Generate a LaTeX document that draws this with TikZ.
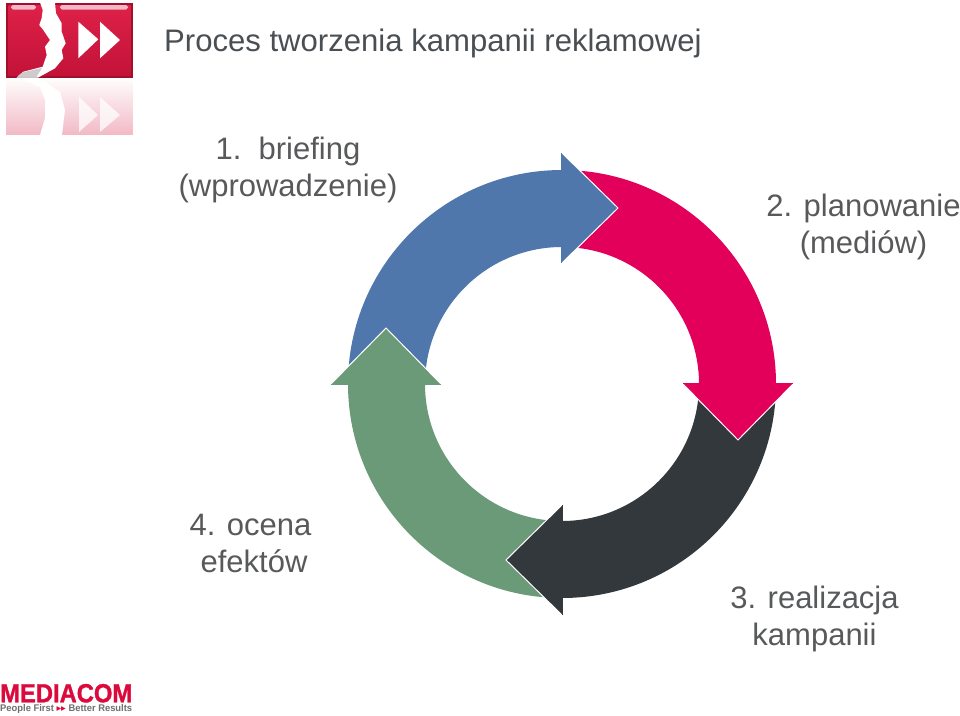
\documentclass[tikz,border=0pt]{standalone}
\usepackage{fontspec}
\setmainfont{Liberation Sans}
\newfontfamily\logofont[FakeBold=1.2]{Liberation Sans}
\newfontfamily\arrowfont{DejaVu Sans}
\definecolor{txtgray}{HTML}{58595B}
\definecolor{titlegray}{HTML}{4A4F54}
\definecolor{cblue}{HTML}{4F77AB}
\definecolor{cpink}{HTML}{E2005A}
\definecolor{cdark}{HTML}{33383C}
\definecolor{cgreen}{HTML}{6B9A78}
\definecolor{logored}{HTML}{D4143E}
\definecolor{logolight}{HTML}{DE2148}
\definecolor{logodark}{HTML}{A30E2A}
\definecolor{mcred}{HTML}{DC0A3C}
\definecolor{mcgray}{HTML}{6D6E70}
\usetikzlibrary{fadings}
\tikzset{
  lab/.style={font=\fontsize{31}{37}\selectfont,text=txtgray,align=center,inner sep=0pt},
  titletext/.style={font=\fontsize{31.1}{36}\selectfont,text=titlegray,anchor=west,inner sep=0pt},
  tipedge/.style={draw=white,line width=1pt,line join=miter},
  glowbar/.style={fill=white!70!logored,rounded corners=1.8pt},
}
\newcommand{\ringbody}[2]{%
  \begin{scope}[shift={(562,-384)},rotate=#1]
    \fill[#2] (180:214) arc[start angle=180,end angle=90,radius=214] -- (90:137) arc[start angle=90,end angle=180,radius=137] -- cycle;
  \end{scope}}
\newcommand{\ringhead}[2]{%
  \begin{scope}[shift={(562,-384)},rotate=#1]
    \fill[#2] (0,231) -- (56,176) -- (0,121) -- cycle;
    \draw[tipedge] (0,231) -- (56,176) -- (0,121);
    \fill[#2] (-1,231) -- (-0.2,231) -- (-0.2,121) -- (-1,121) -- cycle;
  \end{scope}}
\begin{document}
\begin{tikzpicture}[x=1pt,y=1pt]
\useasboundingbox (0,0) rectangle (960,-715);
\fill[white] (0,0) rectangle (960,-715);
% logo reflection
\fill[logored!30,path fading=north] (6,-77) rectangle (133,-135);
\begin{scope}
  \clip (6,-77) rectangle (133,-135);
  \fill[white] (17,-77) -- (40,-87) -- (45,-100) -- (45,-118) -- (40,-135) -- (62,-135) -- (65,-110) -- (60,-92) -- (38,-77) -- cycle;
  \fill[white,opacity=.75] (79,-97) -- (98,-115) -- (79,-132) -- cycle;
  \fill[white,opacity=.75] (100,-97) -- (120,-115) -- (100,-132) -- cycle;
\end{scope}
% logo
\fill[logodark] (6,-3) rectangle (133,-77.5);
\shade[top color=logolight,bottom color=logored!92!black] (8.5,-5) rectangle (130.5,-75);
\fill[glowbar] (11,-5) rectangle (36,-9.5);
\fill[glowbar] (60,-5) rectangle (128,-9.5);
\fill[white] (40,-2.5) -- (42.7,-10) -- (41.7,-18) -- (39.3,-25) -- (43.3,-30) -- (50,-40) -- (45,-46.7) -- (46.7,-55) -- (42.7,-66.7) -- (23.3,-71.7) -- (16.7,-77.5) -- (38.3,-77.5) -- (55,-68.3) -- (63.3,-58.3) -- (61.7,-50) -- (65.7,-43.3) -- (61.7,-31.7) -- (61.7,-23.3) -- (56,-13.3) -- (55,-2.5) -- cycle;
\fill[white!80!black] (20,-74) -- (24,-72) -- (42,-68) -- (36,-77.5) -- (17,-77.5) -- cycle;
\fill[white] (78.3,-21.7) -- (98.3,-39.3) -- (78.3,-58.3) -- cycle;
\fill[white] (100,-21.7) -- (120,-40) -- (100,-58.3) -- cycle;
% title
\node[titletext] (title) at (164,-43) {Proces tworzenia kampanii reklamowej};
% ring
\ringbody{0}{cblue}
\ringbody{-90}{cpink}
\ringbody{-180}{cdark}
\ringbody{-270}{cgreen}
\ringhead{0}{cblue}
\ringhead{-90}{cpink}
\ringhead{-180}{cdark}
\ringhead{-270}{cgreen}
% labels
\node[lab] (l1) at (288,-169.5) {1.\ \ briefing\\(wprowadzenie)};
\node[lab] (l2) at (863.5,-226.5) {2. planowanie\\(mediów)};
\node[lab] (l3) at (814.5,-618.5) {3. realizacja\\kampanii};
\node[lab] (l4) at (250.5,-543.5) {4. ocena\\\hspace*{7pt}efektów};
% mediacom
\node[inner sep=0pt,anchor=base west] (mc) at (0,-711.8) {\vbox{\offinterlineskip
  \hbox{\raisebox{0pt}[18.3pt][0pt]{\color{mcred}\resizebox{132pt}{18.3pt}{\logofont\bfseries MEDIACOM}}}
  \kern2.5pt
  \hbox{\color{mcgray}\resizebox{132pt}{7pt}{\bfseries People First \textcolor{mcred}{\arrowfont ▸▸} Better Results}}}};
\end{tikzpicture}
\end{document}
